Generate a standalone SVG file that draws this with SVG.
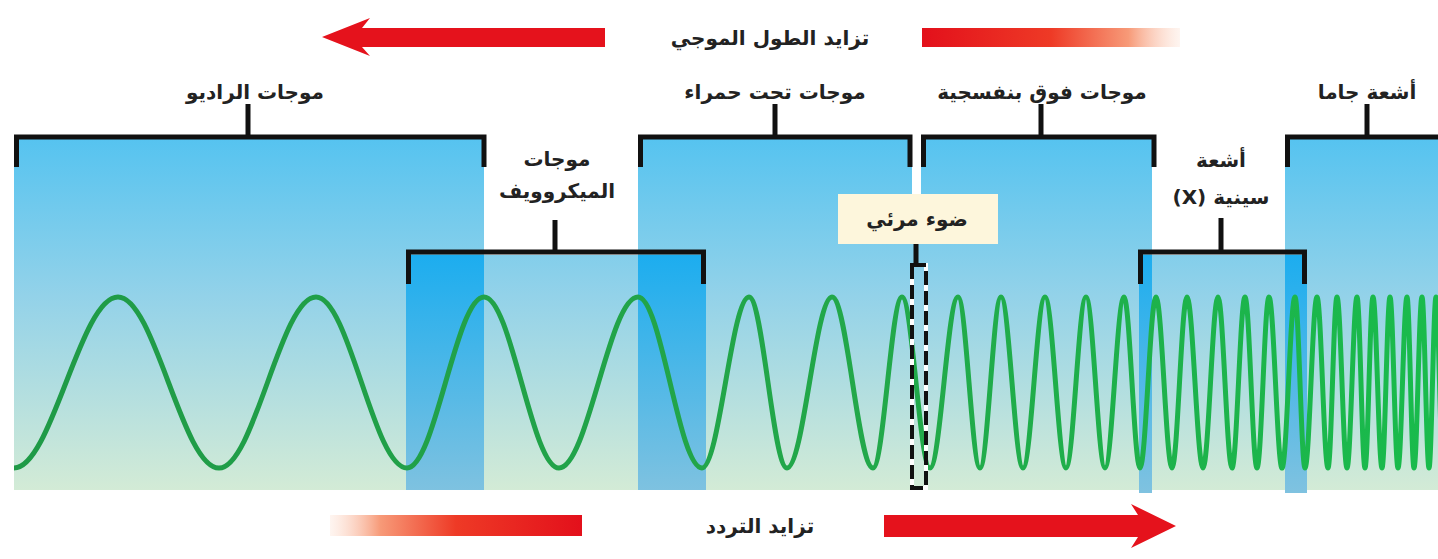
<svg xmlns="http://www.w3.org/2000/svg" width="1438" height="559" viewBox="0 0 1438 559">
<defs>
<style>
.lbl{font-family:"DejaVu Sans",sans-serif;font-weight:bold;font-size:20px;fill:#222;text-anchor:middle;direction:rtl}
.br{fill:none;stroke:#111;stroke-width:5;stroke-linecap:butt;stroke-linejoin:miter}
.stem{stroke:#111;stroke-width:5}
.panel{fill:url(#bg)}
.strip{fill:url(#sg)}
.red{fill:#e5121c}
</style>
<linearGradient id="bg" gradientUnits="userSpaceOnUse" x1="0" y1="137" x2="0" y2="490">
<stop offset="0" stop-color="#55c3f0"/>
<stop offset="0.45" stop-color="#93d2e9"/>
<stop offset="1" stop-color="#d3ebd6"/>
</linearGradient>
<linearGradient id="sg" gradientUnits="userSpaceOnUse" x1="0" y1="255" x2="0" y2="492">
<stop offset="0" stop-color="#1cadef"/>
<stop offset="1" stop-color="#7fc2e0"/>
</linearGradient>
<linearGradient id="wg" gradientUnits="userSpaceOnUse" x1="14" y1="0" x2="1438" y2="0">
<stop offset="0" stop-color="#1f9a47"/>
<stop offset="0.6" stop-color="#22a84a"/>
<stop offset="1" stop-color="#19bb4c"/>
</linearGradient>
<linearGradient id="fadeR" gradientUnits="userSpaceOnUse" x1="922" y1="0" x2="1180" y2="0">
<stop offset="0" stop-color="#e3101b"/>
<stop offset="0.5" stop-color="#ee3a26"/>
<stop offset="0.8" stop-color="#f79a78"/>
<stop offset="1" stop-color="#fde6da" stop-opacity="0.4"/>
</linearGradient>
<linearGradient id="fadeL" gradientUnits="userSpaceOnUse" x1="330" y1="0" x2="582" y2="0">
<stop offset="0" stop-color="#fde6da" stop-opacity="0.4"/>
<stop offset="0.2" stop-color="#f79a78"/>
<stop offset="0.5" stop-color="#ee3a26"/>
<stop offset="1" stop-color="#e3101b"/>
</linearGradient>
</defs>
<rect width="1438" height="559" fill="#ffffff"/>

<g id="panels">
<rect class="panel" x="14" y="255" width="1424" height="235"/>
<rect class="panel" x="14" y="137" width="470" height="120"/>
<rect class="panel" x="638" y="137" width="274" height="120"/>
<rect class="panel" x="921" y="137" width="231" height="120"/>
<rect class="panel" x="1285" y="137" width="153" height="120"/>
<rect class="panel" x="912" y="243" width="9" height="14"/>
<rect class="strip" x="406" y="255" width="78" height="235"/>
<rect class="strip" x="638" y="255" width="68" height="235"/>
<rect class="strip" x="1139" y="255" width="13" height="238"/>
<rect class="strip" x="1285" y="255" width="22" height="238"/>
</g>

<g id="wave">
<path fill="none" stroke="url(#wg)" stroke-width="5" stroke-linejoin="round" d="M14,468 C51.8,468 80.2,297 118,297 C154.7,297 182.3,468 219,468 C254.3,468 280.7,297 316,297 C349.1,297 373.9,468 407,468 C435,468 456,297 484,297 C511.3,297 531.7,468 559,468 C587.7,468 609.3,297 638,297 C661.3,297 678.7,468 702,468 C719.1,468 731.9,297 749,297 C762.8,297 773.2,468 787,468 C803.4,468 815.6,297 832,297 C846.9,297 858.1,468 873,468 C883.5,468 891.5,297 902,297 C912.2,297 919.8,468 930,468 C940.2,468 947.8,297 958,297 C966,297 972,468 980,468 C987.6,468 993.4,297 1001,297 C1009,297 1015,468 1023,468 C1031,468 1037,297 1045,297 C1052.6,297 1058.4,468 1066,468 C1073.3,468 1078.7,297 1086,297 C1092.9,297 1098.1,468 1105,468 C1111.9,468 1117.1,297 1124,297 C1129.8,297 1134.2,468 1140,468 C1145.8,468 1150.2,297 1156,297 C1161.8,297 1166.2,468 1172,468 C1177.5,468 1181.5,297 1187,297 C1192.8,297 1197.2,468 1203,468 C1208.5,468 1212.5,297 1218,297 C1223.1,297 1226.9,468 1232,468 C1236.7,468 1240.3,297 1245,297 C1249.4,297 1252.6,468 1257,468 C1261.4,468 1264.6,297 1269,297 C1273.7,297 1277.3,468 1282,468 C1286.7,468 1290.3,297 1295,297 C1298.6,297 1301.4,468 1305,468 C1309.4,468 1312.6,297 1317,297 C1321,297 1324,468 1328,468 C1331.3,468 1333.7,297 1337,297 C1340.6,297 1343.4,468 1347,468 C1350.6,468 1353.4,297 1357,297 C1359.9,297 1362.1,468 1365,468 C1367.9,468 1370.1,297 1373,297 C1376.3,297 1378.7,468 1382,468 C1384.9,468 1387.1,297 1390,297 C1392.9,297 1395.1,468 1398,468 C1401.3,468 1403.7,297 1407,297 C1409.5,297 1411.5,468 1414,468 C1416.9,468 1419.1,297 1422,297 C1424.5,297 1426.5,468 1429,468 C1431.5,468 1433.5,297 1436,297 C1438.5,297 1440.5,468 1443,468"/>
</g>

<g id="connectors">
<line class="stem" x1="248" y1="104" x2="248" y2="137"/>
<line class="stem" x1="775" y1="104" x2="775" y2="137"/>
<line class="stem" x1="1041" y1="104" x2="1041" y2="137"/>
<line class="stem" x1="1367" y1="104" x2="1367" y2="137"/>
<line class="stem" x1="555" y1="220" x2="555" y2="252"/>
<line class="stem" x1="1221" y1="218" x2="1221" y2="252"/>
<line class="stem" x1="916" y1="243" x2="916" y2="265"/>
</g>

<g id="radio">
<path class="br" d="M16.5,167 V137 H484 V167"/>
<text class="lbl" x="255" y="99">موجات الراديو</text>
</g>
<g id="infrared">
<path class="br" d="M640.5,167 V137 H910 V167"/>
<text class="lbl" x="775" y="99">موجات تحت حمراء</text>
</g>
<g id="ultraviolet">
<path class="br" d="M923.5,167 V137 H1154 V167"/>
<text class="lbl" x="1042" y="99">موجات فوق بنفسجية</text>
</g>
<g id="gamma">
<path class="br" d="M1287.5,167 V137 H1440"/>
<text class="lbl" x="1367" y="99">أشعة جاما</text>
</g>
<g id="microwave">
<path class="br" d="M408.5,284 V252 H703.5 V284"/>
<text class="lbl" x="557" y="166">موجات</text>
<text class="lbl" x="557" y="198">الميكروويف</text>
</g>
<g id="xray">
<path class="br" d="M1140.5,284 V252 H1304.5 V284"/>
<text class="lbl" x="1221" y="167">أشعة</text>
<text class="lbl" x="1221" y="204">سينية (X)</text>
</g>
<g id="visible">
<rect x="838" y="194" width="160" height="50" fill="#fdf6dc"/>
<text class="lbl" x="917" y="226">ضوء مرئي</text>
<rect x="912" y="265" width="14" height="223" fill="none" stroke="#ffffff" stroke-width="4"/>
<rect x="912" y="265" width="14" height="223" fill="none" stroke="#111" stroke-width="4" stroke-dasharray="14 6"/>
</g>

<g id="wavelength">
<path class="red" d="M322,37 L370,18 L362,28 L605,28 L605,47 L362,47 L370,56 Z"/>
<rect x="922" y="28" width="258" height="19" fill="url(#fadeR)"/>
<text class="lbl" x="770" y="45">تزايد الطول الموجي</text>
</g>
<g id="frequency">
<rect x="330" y="515" width="252" height="21" fill="url(#fadeL)"/>
<path class="red" d="M884,515 L1138,515 L1131,504 L1176,526 L1131,548 L1138,537 L884,537 Z"/>
<text class="lbl" x="760" y="533">تزايد التردد</text>
</g>
</svg>
